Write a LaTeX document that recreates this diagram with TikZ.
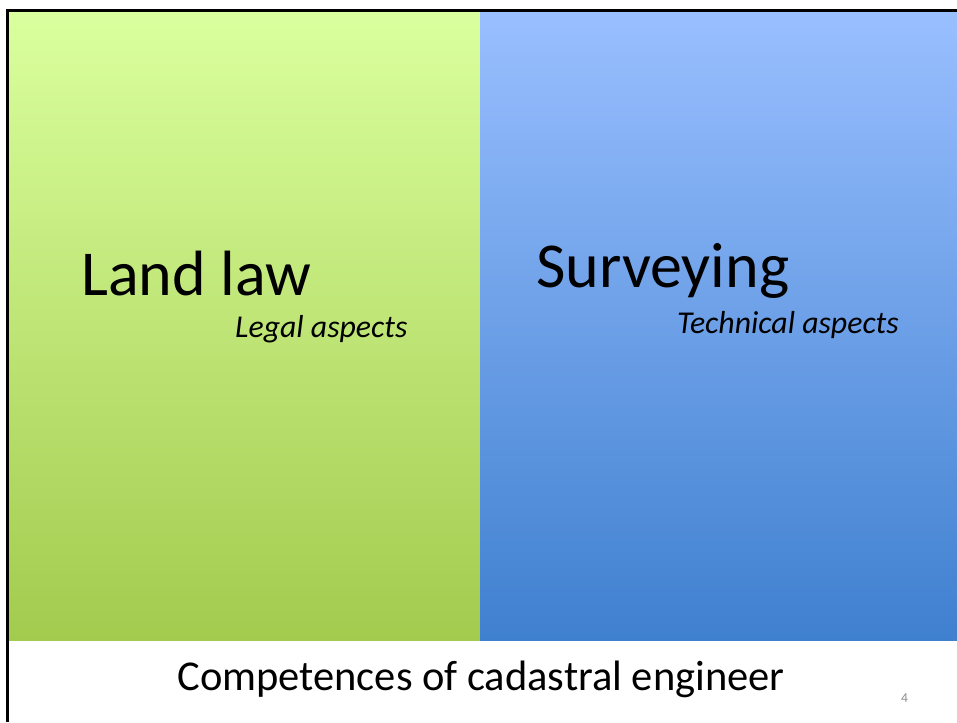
\documentclass[tikz,border=0pt]{standalone}
\usepackage{fontspec}
\setmainfont{Carlito}
\definecolor{greentop}{HTML}{DAFF9E}
\definecolor{greenbot}{HTML}{A3CB4E}
\definecolor{bluetop}{HTML}{99BFFF}
\definecolor{bluebot}{HTML}{3F80CF}
\definecolor{numgray}{HTML}{8C8C8C}
\tikzset{
  bigtext/.style={anchor=base west, inner sep=0pt, font=\fontsize{64}{70}\selectfont},
  subtext/.style={anchor=base west, inner sep=0pt, font=\fontsize{31.8}{36}\selectfont\itshape},
  captext/.style={anchor=base, inner sep=0pt, font=\fontsize{42.5}{48}\selectfont},
  pagenum/.style={anchor=base west, inner sep=0pt, font=\fontsize{13.5}{15}\selectfont, text=numgray},
  frame/.style={line width=2.8pt, black}
}
\begin{document}
\begin{tikzpicture}[x=1pt,y=-1pt]
\useasboundingbox (0,0) rectangle (957,722);
\fill[white] (0,0) rectangle (957,722);
\shade[top color=greentop, bottom color=greenbot] (8,11) rectangle (480,640);
\shade[top color=bluetop, bottom color=bluebot] (480,11) rectangle (957,640);
\draw[frame] (7.2,722) -- (7.2,10.5) -- (957,10.5);
\node[bigtext] (land) at (81,295) {Land law};
\node[subtext] (legal) at (235,337) {Legal aspects};
\node[bigtext] (surv) at (536,287) {Surveying};
\node[subtext] (tech) at (677,333) {Technical aspects};
\node[captext] (cap) at (481,690) {Competences of cadastral engineer};
\node[pagenum] (num) at (901,702) {4};
\end{tikzpicture}
\end{document}
